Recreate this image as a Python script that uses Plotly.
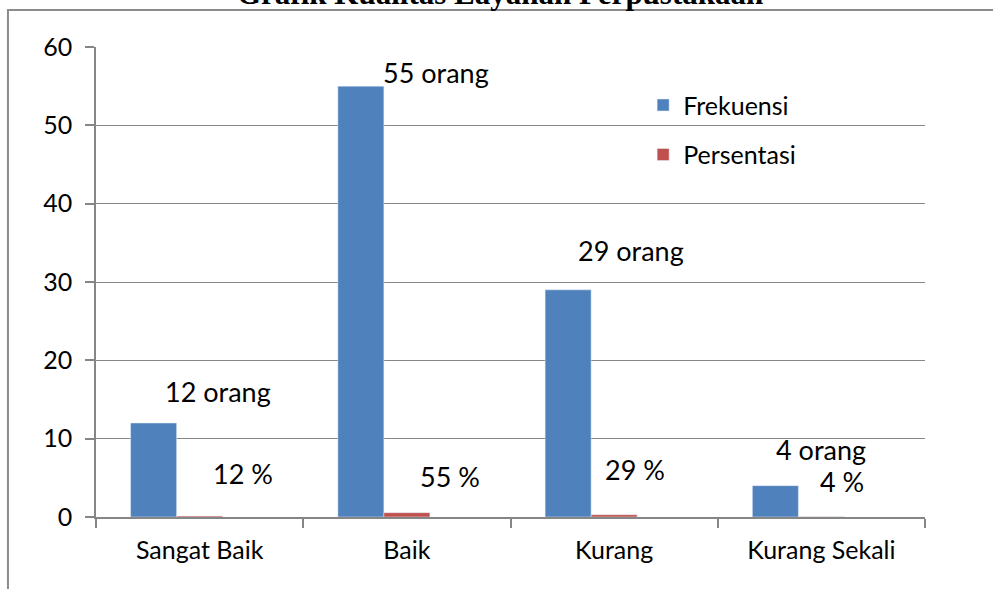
import plotly.graph_objects as go

# Survey results: library service quality
categories = ["Sangat Baik", "Baik", "Kurang", "Kurang Sekali"]
frekuensi = [12, 55, 29, 4]            # number of respondents
persentasi = [0.12, 0.55, 0.29, 0.04]  # share of respondents (fraction)

# label placement (category index, value axis) for the data labels
orang_label_pos = [(0.09, 16.0), (1.14, 56.8), (2.08, 34.0), (3.0, 8.6)]
persen_label_pos = [(0.21, 5.5), (1.21, 5.2), (2.10, 6.1), (3.10, 4.5)]

BLUE = "#4F81BD"
RED = "#C0504D"
GRID = "#868686"
FONT = "Lato, 'Open Sans', sans-serif"

x_idx = list(range(len(categories)))
bar_w = 0.222

fig = go.Figure()
fig.add_trace(go.Bar(
    x=x_idx, y=frekuensi, name="Frekuensi", marker_color=BLUE,
    width=bar_w, offset=-1.5 * bar_w, legendgroup="a",
))
fig.add_trace(go.Bar(
    x=x_idx, y=persentasi, name="Persentasi", marker_color=RED,
    width=bar_w, offset=-0.5 * bar_w, legendgroup="b",
))

annotations = []
for (ax, ay), v in zip(orang_label_pos, frekuensi):
    annotations.append(dict(x=ax, y=ay, xref="x", yref="y", text=f"{v} orang",
                            showarrow=False, font=dict(size=27, color="#000", family=FONT)))
for (ax, ay), p in zip(persen_label_pos, persentasi):
    annotations.append(dict(x=ax, y=ay, xref="x", yref="y", text=f"{round(p * 100)} %",
                            showarrow=False, font=dict(size=27, color="#000", family=FONT)))

# chart title (partly above the visible area)
annotations.append(dict(
    x=0.487, y=1.114, xref="paper", yref="paper", text="<b>Grafik Kualitas Layanan Perpustakaan</b>",
    showarrow=False, font=dict(size=31, color="#000", family="'Liberation Serif', 'Times New Roman', serif"),
    yanchor="middle",
))

fig.update_layout(
    width=993, height=589,
    margin=dict(l=96, r=68, t=47, b=72),
    paper_bgcolor="white", plot_bgcolor="white",
    barmode="overlay",
    font=dict(family=FONT, size=25, color="#000"),
    showlegend=True,
    legend=dict(
        x=0.66, y=0.925, xanchor="left", yanchor="top",
        bgcolor="rgba(0,0,0,0)", font=dict(size=25, family=FONT),
        tracegroupgap=14, traceorder="grouped",
    ),
    annotations=annotations,
    shapes=[dict(
        type="rect", xref="paper", yref="paper",
        x0=-0.1062, x1=1.2, y0=-0.4, y1=1.0787,
        line=dict(color="#8c8c8c", width=2), fillcolor="rgba(0,0,0,0)", layer="below",
    )],
)

fig.update_xaxes(
    type="linear", range=[-0.5, 3.5],
    tickmode="array", tickvals=x_idx, ticktext=categories,
    showgrid=False, showline=True, linecolor=GRID, linewidth=1.5,
    zeroline=False,
    tickfont=dict(size=25, family=FONT),
    ticks="", ticklabelstandoff=10,
)
# tick marks on category boundaries drawn as minor ticks
fig.update_xaxes(minor=dict(tickmode="array", tickvals=[-0.5, 0.5, 1.5, 2.5, 3.5],
                            ticks="outside", ticklen=9, tickcolor=GRID, tickwidth=1.5, showgrid=False))

fig.update_yaxes(
    range=[0, 60], dtick=10, tick0=0,
    showgrid=True, gridcolor=GRID, gridwidth=1.3,
    showline=True, linecolor=GRID, linewidth=1.5,
    ticks="outside", ticklen=9, tickcolor=GRID, tickwidth=1.5,
    zeroline=False, tickfont=dict(size=25, family=FONT),
    ticklabelstandoff=8,
)

fig.write_html("out.html")
